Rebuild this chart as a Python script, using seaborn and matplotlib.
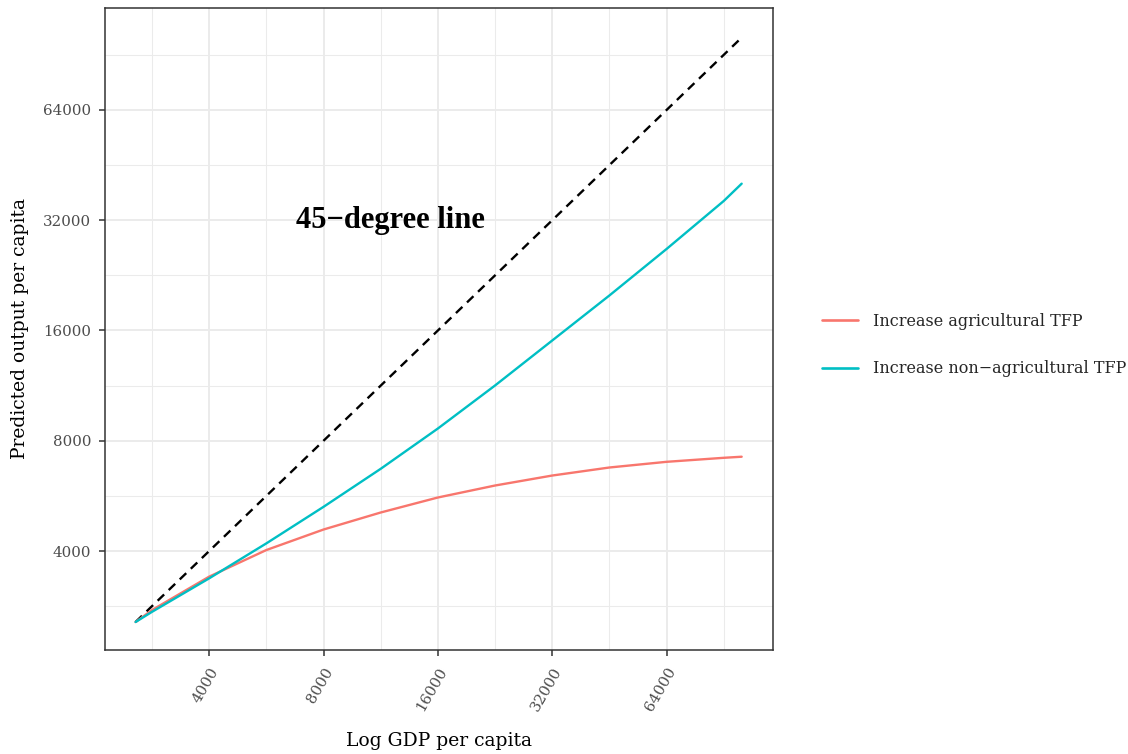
import numpy as np
import pandas as pd
import seaborn as sns
import matplotlib
matplotlib.use("Agg")
import matplotlib.pyplot as plt
from matplotlib.ticker import FixedLocator, FixedFormatter

# ---- data ----
gdp = [2560, 2828, 4000, 5657, 8000, 11314, 16000, 22627, 32000, 45255, 64000, 90510, 100900]
ag_tfp = [2560, 2760, 3405, 4025, 4579, 5096, 5600, 6038, 6429, 6762, 7008, 7187, 7236]
nonag_tfp = [2560, 2729, 3369, 4197, 5281, 6707, 8640, 11324, 15025, 19940, 26710, 36120, 40270]
series_names = ["Increase agricultural TFP", "Increase non\u2212agricultural TFP"]
tick_vals = [4000, 8000, 16000, 32000, 64000]
minor_vals = [2828, 5657, 11314, 22627, 45255, 90510]
tick_labels = ["4000", "8000", "16000", "32000", "64000"]
colors = ["#F8766D", "#00BFC4"]

df = pd.DataFrame({
    "gdp": gdp + gdp,
    "output": ag_tfp + nonag_tfp,
    "scenario": [series_names[0]] * len(gdp) + [series_names[1]] * len(gdp),
})

sns.set_theme(style="white")
plt.rcParams["font.family"] = ["DejaVu Serif"]

fig = plt.figure(figsize=(11.28, 7.54), dpi=100)
ax = fig.add_axes([105 / 1128, 1 - 650 / 754, 668 / 1128, 642 / 754])

ax.set_xscale("log", base=2)
ax.set_yscale("log", base=2)

# grid
for v in tick_vals:
    ax.axvline(v, color="#EBEBEB", lw=1.4, zorder=0)
    ax.axhline(v, color="#EBEBEB", lw=1.4, zorder=0)
for v in minor_vals:
    ax.axvline(v, color="#EBEBEB", lw=0.75, zorder=0)
    ax.axhline(v, color="#EBEBEB", lw=0.75, zorder=0)

# 45-degree line
ax.plot([gdp[0], gdp[-1]], [gdp[0], gdp[-1]], color="black", lw=1.7,
        dashes=(3.8, 2.7), zorder=2)

sns.lineplot(data=df, x="gdp", y="output", hue="scenario", palette=colors,
             hue_order=series_names, lw=1.7, ax=ax, zorder=3)

ax.text(12000, 32000, "45\u2212degree line", fontsize=22, fontweight="bold",
        family=["Liberation Serif"], ha="center", va="center", color="black")

ax.set_xlim(2127, 122000)
ax.set_ylim(2147, 121500)

ax.xaxis.set_major_locator(FixedLocator(tick_vals))
ax.xaxis.set_major_formatter(FixedFormatter(tick_labels))
ax.yaxis.set_major_locator(FixedLocator(tick_vals))
ax.yaxis.set_major_formatter(FixedFormatter(tick_labels))
ax.xaxis.set_minor_locator(FixedLocator([]))
ax.yaxis.set_minor_locator(FixedLocator([]))

ax.tick_params(axis="both", which="major", length=4, width=1.1, color="#333333",
               labelcolor="#4D4D4D", labelsize=10.8, bottom=True, left=True)
ax.tick_params(axis="y", pad=6)
ax.tick_params(axis="x", pad=7)
for lab in ax.get_xticklabels():
    lab.set_rotation(60)
    lab.set_ha("right")
    lab.set_rotation_mode("anchor")

for s in ax.spines.values():
    s.set_color("#333333")
    s.set_linewidth(1.1)

ax.set_xlabel("Log GDP per capita", fontsize=13.5, color="black", labelpad=13)
ax.set_ylabel("Predicted output per capita", fontsize=13.5, color="black", labelpad=10)

leg = ax.legend(title=None, frameon=False, loc="center left",
                bbox_to_anchor=(1 + 49 / 668, 0.475), fontsize=11.5,
                handlelength=2.25, labelspacing=1.9, handletextpad=0.95,
                borderpad=0, borderaxespad=0)
for line in leg.get_lines():
    line.set_linewidth(1.9)

fig.savefig("out.png", dpi=100)
